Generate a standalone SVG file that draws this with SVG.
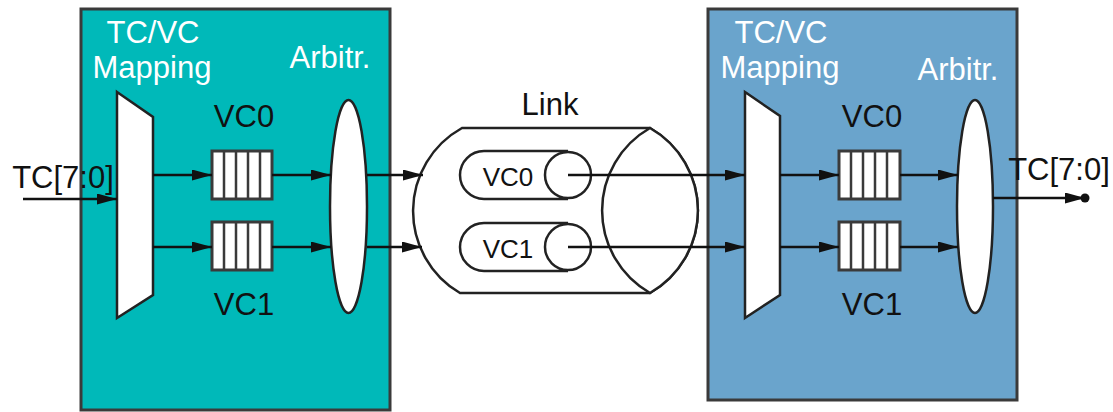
<svg xmlns="http://www.w3.org/2000/svg" width="1113" height="412" viewBox="0 0 1113 412">
<defs>
<marker id="ah" markerUnits="userSpaceOnUse" markerWidth="20" markerHeight="12" refX="20" refY="5.5" orient="auto">
<path d="M0,0 L20,5.5 L0,11 Z" fill="#111"/>
</marker>
<style>
.lbl{font-family:"Liberation Sans",Arial,sans-serif;font-size:31px;fill:#111}
.wl{font-family:"Liberation Sans",Arial,sans-serif;font-size:31px;fill:#fff}
.box{stroke:#3a3a3a;stroke-width:3}
.sh{fill:#fff;stroke:#222;stroke-width:2.5}
.q{fill:#fff;stroke:#3a3a3a;stroke-width:3}
.qc{stroke:#3a3a3a;stroke-width:2.5}
.ln{stroke:#111;stroke-width:2.5;fill:none}
.ar{stroke:#111;stroke-width:2.5;fill:none;marker-end:url(#ah)}
</style>
</defs>
<rect width="1113" height="412" fill="#fff"/>

<g id="tx-left">
<rect class="box" x="81" y="9" width="309" height="401" fill="#00b9b9"/>
<text class="wl" x="153" y="43" text-anchor="middle">TC/VC</text>
<text class="wl" x="152" y="78" text-anchor="middle">Mapping</text>
<text class="wl" x="330" y="68" text-anchor="middle">Arbitr.</text>
</g>
<g id="rx-right">
<rect class="box" x="708" y="9" width="309" height="391" fill="#6aa4cc"/>
<text class="wl" x="781" y="43" text-anchor="middle">TC/VC</text>
<text class="wl" x="780" y="78" text-anchor="middle">Mapping</text>
<text class="wl" x="958" y="80" text-anchor="middle">Arbitr.</text>
</g>

<g id="mux-left"><polygon class="sh" points="117,92 153,117 153,295 117,318"/></g>
<g id="mux-right"><polygon class="sh" points="745,92 780,116 780,295 745,318"/></g>

<g id="q-left-vc0">
<rect class="q" x="212" y="151" width="60" height="48"/>
<path class="qc" d="M224,151V199M236,151V199M248,151V199M260,151V199"/>
<text class="lbl" x="244" y="127" text-anchor="middle">VC0</text>
</g>
<g id="q-left-vc1">
<rect class="q" x="212" y="222" width="60" height="48"/>
<path class="qc" d="M224,222V270M236,222V270M248,222V270M260,222V270"/>
<text class="lbl" x="244" y="315" text-anchor="middle">VC1</text>
</g>
<g id="q-right-vc0">
<rect class="q" x="839" y="151" width="61" height="48"/>
<path class="qc" d="M851,151V199M863,151V199M875,151V199M887,151V199"/>
<text class="lbl" x="872" y="127" text-anchor="middle">VC0</text>
</g>
<g id="q-right-vc1">
<rect class="q" x="839" y="222" width="61" height="48"/>
<path class="qc" d="M851,222V270M863,222V270M875,222V270M887,222V270"/>
<text class="lbl" x="872" y="315" text-anchor="middle">VC1</text>
</g>

<g id="arb-left"><ellipse class="sh" cx="348.5" cy="206.5" rx="18.5" ry="106.5"/></g>
<g id="arb-right"><ellipse class="sh" cx="975" cy="206.5" rx="18" ry="106.5"/></g>

<g id="link">
<text class="lbl" x="550" y="115" text-anchor="middle">Link</text>
<path class="sh" d="M462,128 L650,128 A95,95 0 0 1 650,293 L460,293 A95,95 0 0 1 462,128 Z"/>
<path class="sh" d="M650,128 A95,95 0 0 0 650,293 A95,95 0 0 0 650,128 Z"/>
<g id="link-vc0">
<path class="sh" d="M568,151 L484,151 A24,24 0 0 0 484,199 L568,199"/>
<circle class="sh" cx="568" cy="175" r="23"/>
<text class="lbl" x="508" y="186" text-anchor="middle" style="font-size:26px">VC0</text>
</g>
<g id="link-vc1">
<path class="sh" d="M568,223 L484,223 A24,24 0 0 0 484,271 L568,271"/>
<circle class="sh" cx="568" cy="247" r="23"/>
<text class="lbl" x="508" y="258" text-anchor="middle" style="font-size:26px">VC1</text>
</g>
</g>

<g id="labels">
<text class="lbl" x="63" y="188" text-anchor="middle">TC[7:0]</text>
<text class="lbl" x="1059" y="180" text-anchor="middle">TC[7:0]</text>
</g>

<g id="connectors">
<line class="ar" x1="23" y1="199" x2="117" y2="199"/>
<line class="ar" x1="153" y1="175" x2="212" y2="175"/>
<line class="ar" x1="153" y1="247" x2="212" y2="247"/>
<line class="ar" x1="272" y1="175" x2="331" y2="175"/>
<line class="ar" x1="272" y1="247" x2="331" y2="247"/>
<line class="ar" x1="367" y1="175" x2="423" y2="175"/>
<line class="ar" x1="367" y1="247" x2="422" y2="247"/>
<line class="ar" x1="568" y1="175" x2="745" y2="175"/>
<line class="ar" x1="568" y1="247" x2="745" y2="247"/>
<line class="ar" x1="780" y1="175" x2="839" y2="175"/>
<line class="ar" x1="780" y1="247" x2="839" y2="247"/>
<line class="ar" x1="900" y1="175" x2="958" y2="175"/>
<line class="ar" x1="900" y1="247" x2="958" y2="247"/>
<line class="ar" x1="993" y1="198" x2="1085" y2="198"/>
<circle cx="1085" cy="198" r="4.5" fill="#111"/>
</g>
</svg>
